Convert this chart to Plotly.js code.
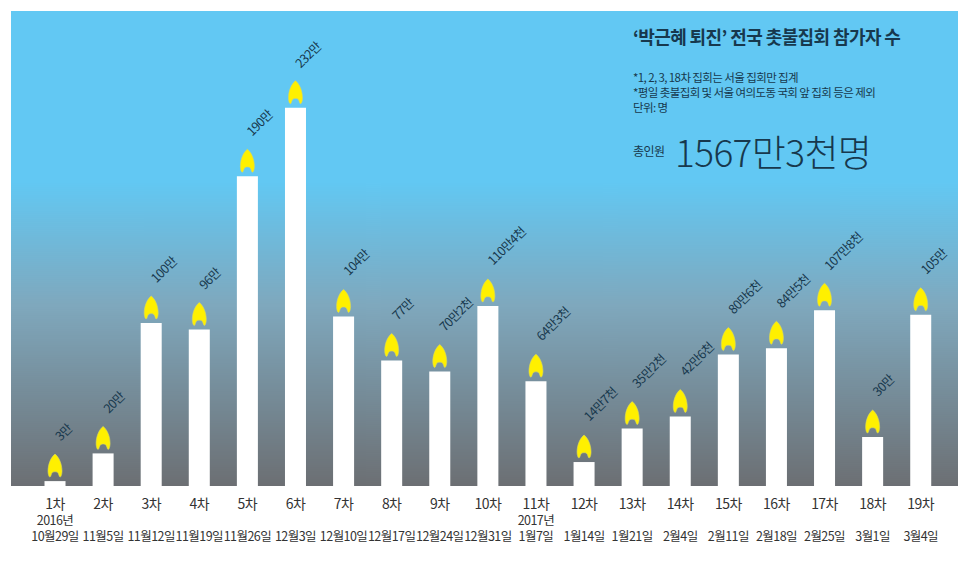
<!DOCTYPE html>
<html><head><meta charset="utf-8">
<script src="https://cdn.plot.ly/plotly-3.0.1.min.js"></script>
<style>html,body{margin:0;padding:0;background:#fff}#chart{width:970px;height:561px}
.xtick text{letter-spacing:-0.55px}
.annotation-text{letter-spacing:-0.6px}
</style>
</head><body><div id="chart"></div>
<script>
const rounds = ['1차','2차','3차','4차','5차','6차','7차','8차','9차','10차','11차','12차','13차','14차','15차','16차','17차','18차','19차'];
const years = ['2016년','','','','','','','','','','2017년','','','','','','','',''];
const dates = ['10월29일','11월5일','11월12일','11월19일','11월26일','12월3일','12월10일','12월17일','12월24일','12월31일','1월7일','1월14일','1월21일','2월4일','2월11일','2월18일','2월25일','3월1일','3월4일'];
const values = [3,20,100,96,190,232,104,77,70.2,110.4,64.3,14.7,35.2,42.6,80.6,84.5,107.8,30,105];
const valueLabels = ['3만','20만','100만','96만','190만','232만','104만','77만','70만2천','110만4천','64만3천','14만7천','35만2천','42만6천','80만6천','84만5천','107만8천','30만','105만'];
const title = '‘박근혜 퇴진’ 전국 촛불집회 참가자 수';
const notes = ['*1, 2, 3, 18차 집회는 서울 집회만 집계','*평일 촛불집회 및 서울 여의도동 국회 앞 집회 등은 제외','단위: 명'];
const totalLabel = '총인원';
const totalValue = '1567만3천명';

const FONT = '"Noto Sans CJK KR","Noto Sans",sans-serif';
const INK = '#17384d';
const cv = document.createElement('canvas'); cv.width = 4; cv.height = 475;
const g = cv.getContext('2d');
const gr = g.createLinearGradient(0,0,0,475);
gr.addColorStop(0,'#62c8f3'); gr.addColorStop(0.36,'#62c8f3'); gr.addColorStop(0.62,'#7fa8bd'); gr.addColorStop(1,'#6c6f73');
g.fillStyle = gr; g.fillRect(0,0,4,475);

const idx = rounds.map((_,i)=>i);
const flame = 'M0,27 C4,24 7,17 7,10 C7,7 6,4 5,4 C4,4 4,8 2,9 C1,9.5 -1,9.5 -2,9 C-4,8 -4,4 -5,4 C-6,4 -7,7 -7,10 C-7,17 -4,24 0,27 Z';
const shapes = idx.map(i=>({type:'path',xsizemode:'pixel',ysizemode:'pixel',xref:'x',yref:'y',xanchor:i,yanchor:values[i],path:flame,fillcolor:'#fff000',line:{color:'#d8d860',width:0.6},layer:'above'}));
const annotations = idx.map(i=>({x:i,y:values[i],xref:'x',yref:'y',text:valueLabels[i],showarrow:false,textangle:-45,xanchor:'left',yanchor:'bottom',xshift:-8,yshift:34,font:{family:FONT,size:12.5,color:INK}}));
const paper = (x,y,text,size,extra)=>Object.assign({xref:'paper',yref:'paper',x:(x-11)/947,y:(486-y)/475,text,showarrow:false,xanchor:'left',yanchor:'middle',font:{family:FONT,size,color:'#17384d'}},extra||{});
annotations.push(paper(631,36,'<b>'+title+'</b>',18));
annotations.push(paper(631,77,notes[0],11.5));
annotations.push(paper(631,92,notes[1],11.5));
annotations.push(paper(631,107,notes[2],11.5));
annotations.push(paper(631,150,totalLabel,12));
annotations.push(paper(673,151,totalValue,37,{font:{family:FONT,size:37,weight:300,color:'#17384d'}}));

Plotly.newPlot('chart',[{type:'bar',x:idx,y:values,width:0.437,marker:{color:'#ffffff',line:{width:0}},hoverinfo:'skip'}],{
  width:970,height:561,margin:{l:11,r:12,t:11,b:75,pad:0},
  paper_bgcolor:'#ffffff',plot_bgcolor:'rgba(0,0,0,0)',showlegend:false,
  xaxis:{range:[-0.915,18.775],tickmode:'array',tickvals:idx,ticktext:idx.map(i=>'<span style="font-size:14px">'+rounds[i]+'</span><br>'+(years[i]||' ')+'<br>'+dates[i]),ticks:'',showgrid:false,zeroline:false,showline:false,tickangle:0,ticklabelstandoff:9,tickfont:{family:FONT,size:12.5,color:'#333'},automargin:false},
  yaxis:{range:[0,291.4],visible:false,fixedrange:true},
  images:[{source:cv.toDataURL(),xref:'paper',yref:'paper',x:0,y:1,sizex:1,sizey:1,sizing:'stretch',layer:'below',xanchor:'left',yanchor:'top'}],
  shapes,annotations
},{displayModeBar:false,staticPlot:true});
</script></body></html>
